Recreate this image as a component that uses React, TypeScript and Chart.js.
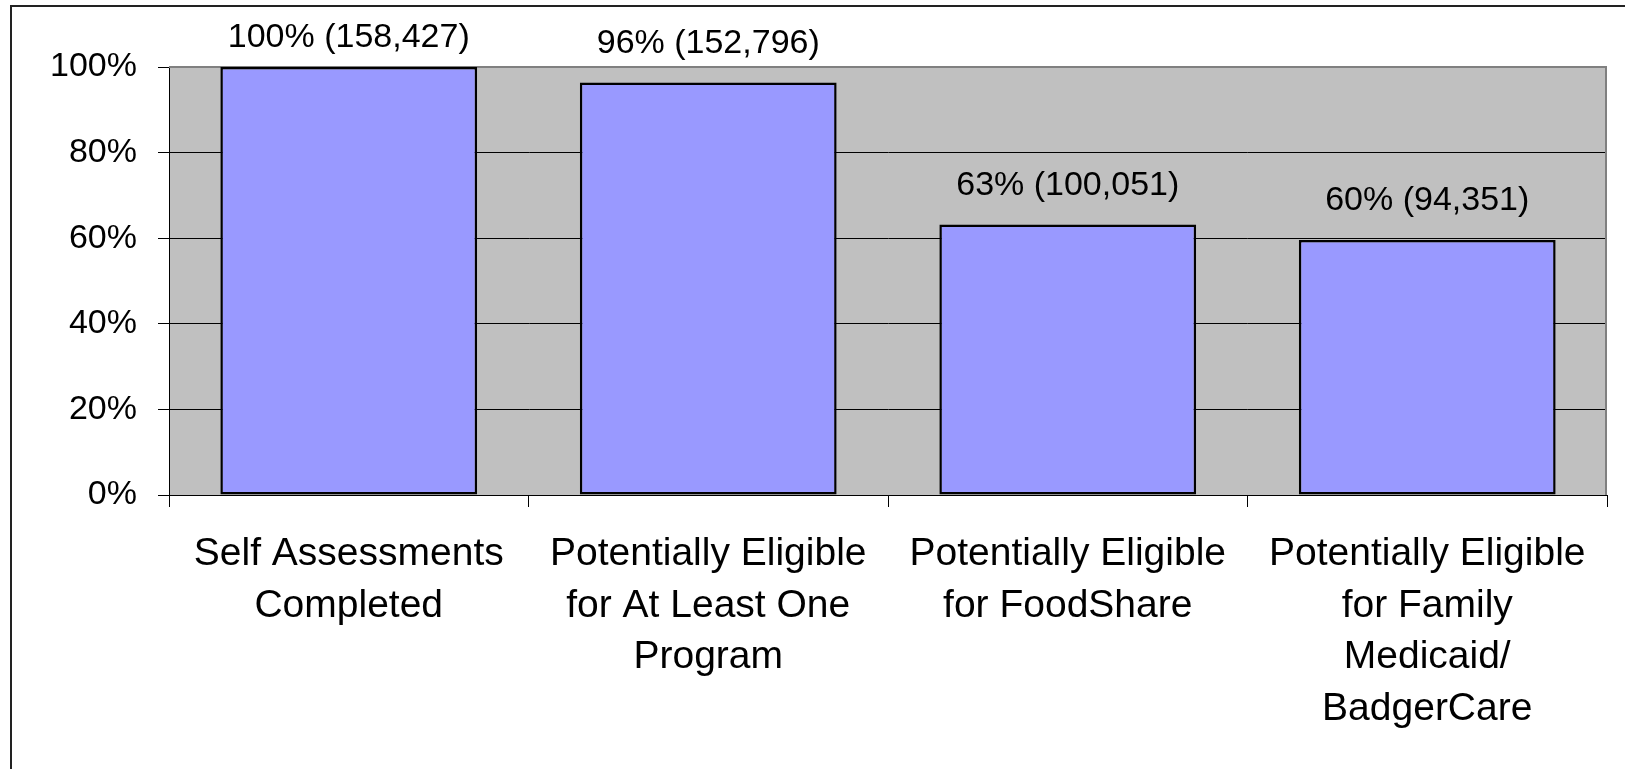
import React, { useEffect, useRef } from "react";
import { Chart, registerables } from "chart.js";

Chart.register(...registerables);

const categories: string[][] = [
  ["Self Assessments", "Completed"],
  ["Potentially Eligible", "for At Least One", "Program"],
  ["Potentially Eligible", "for FoodShare"],
  ["Potentially Eligible", "for Family", "Medicaid/", "BadgerCare"],
];
const percentValues: number[] = [100, 96.4, 63.2, 59.6];
const countValues: number[] = [158427, 152796, 100051, 94351];
const yTicks: number[] = [0, 20, 40, 60, 80, 100];

const FONT = "'Liberation Sans', Arial, sans-serif";

const decorPlugin = {
  id: "decor",
  beforeDraw(chart: any) {
    const { ctx, chartArea: a } = chart;
    ctx.save();
    ctx.fillStyle = "#ffffff";
    ctx.fillRect(0, 0, chart.width, chart.height);
    // outer frame
    ctx.strokeStyle = "#222222";
    ctx.lineWidth = 2;
    ctx.beginPath();
    ctx.moveTo(11, chart.height + 5);
    ctx.lineTo(11, 6);
    ctx.lineTo(chart.width + 5, 6);
    ctx.stroke();
    // plot background
    ctx.fillStyle = "#C0C0C0";
    ctx.fillRect(a.left, a.top, a.right - a.left, a.bottom - a.top);
    ctx.restore();
  },
  beforeDatasetsDraw(chart: any) {
    const { ctx, chartArea: a } = chart;
    ctx.save();
    ctx.strokeStyle = "#808080";
    ctx.lineWidth = 2;
    ctx.beginPath();
    ctx.moveTo(a.left, a.top);
    ctx.lineTo(a.right - 1, a.top);
    ctx.lineTo(a.right - 1, a.bottom);
    ctx.stroke();
    ctx.restore();
  },
  afterDatasetsDraw(chart: any) {
    const { ctx } = chart;
    const meta = chart.getDatasetMeta(0);
    ctx.save();
    ctx.font = `34px ${FONT}`;
    ctx.fillStyle = "#000000";
    ctx.textAlign = "center";
    ctx.textBaseline = "middle";
    meta.data.forEach((bar: any, i: number) => {
      const txt = `${Math.round(percentValues[i])}% (${countValues[i].toLocaleString("en-US")})`;
      const y = Math.max(bar.y - 39, 38);
      ctx.fillText(txt, bar.x, y);
    });
    ctx.restore();
  },
};

export default function App() {
  const ref = useRef<HTMLCanvasElement | null>(null);
  useEffect(() => {
    document.body.style.margin = "0";
    const canvas = ref.current!;
    const chart = new Chart(canvas, {
      type: "bar",
      data: {
        labels: categories,
        datasets: [
          {
            data: percentValues,
            backgroundColor: "#9999FF",
            borderColor: "#000000",
            borderWidth: 2.5,
            borderSkipped: false,
            barPercentage: 1 / 1.4,
            categoryPercentage: 1,
          },
        ],
      },
      options: {
        responsive: false,
        animation: false,
        events: [],
        layout: { padding: { left: 0, top: 67, right: 18, bottom: 0 } },
        plugins: {
          legend: { display: false },
          tooltip: { enabled: false },
          title: { display: false },
        },
        scales: {
          x: {
            afterFit: (s: any) => {
              s.height = 274;
            },
            grid: {
              display: true,
              drawOnChartArea: false,
              drawTicks: true,
              tickLength: 12,
              color: "#000000",
              lineWidth: 1,
            },
            border: { display: true, color: "#000000", width: 1 },
            ticks: {
              autoSkip: false,
              maxRotation: 0,
              minRotation: 0,
              padding: 22,
              color: "#000000",
              font: { family: FONT, size: 39, lineHeight: 1.32 },
            },
          },
          y: {
            min: 0,
            max: 100,
            afterFit: (s: any) => {
              s.width = 169;
            },
            afterBuildTicks: (s: any) => {
              s.ticks = yTicks.map((v) => ({ value: v }));
            },
            grid: {
              color: "#000000",
              lineWidth: 1,
              tickLength: 11,
              drawTicks: true,
            },
            border: { display: true, color: "#000000", width: 1 },
            ticks: {
              padding: 21,
              color: "#000000",
              font: { family: FONT, size: 34 },
              callback: (v: any) => `${v}%`,
            },
          },
        },
      },
      plugins: [decorPlugin],
    });
    return () => chart.destroy();
  }, []);
  return (
    <div style={{ position: "absolute", left: 0, top: 0, width: 1625, height: 769, overflow: "hidden" }}>
      <canvas ref={ref} width={1625} height={769} style={{ display: "block" }} />
    </div>
  );
}
